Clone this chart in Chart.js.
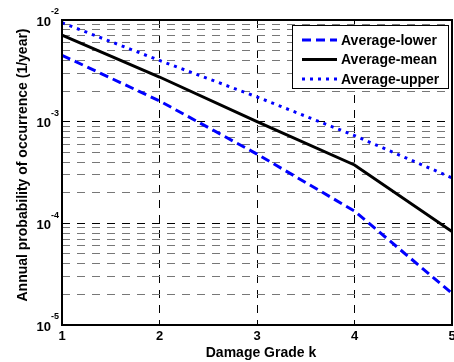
<!DOCTYPE html>
<html>
<head>
<meta charset="utf-8">
<script src="https://cdn.jsdelivr.net/npm/chart.js@4/dist/chart.umd.min.js"></script>
<style>
  html, body { margin: 0; padding: 0; background: #fff; }
  #wrap { width: 454px; height: 362px; }
</style>
</head>
<body>
<div id="wrap"><canvas id="chart"></canvas></div>
<script>
  // Damage grades (x) and annual probabilities (y)
  var grades = [1, 2, 3, 4, 5];
  var avgLower = [4.5e-3, 1.6e-3, 4.8e-4, 1.32e-4, 2.05e-5];
  var avgMean = [7.1e-3, 2.75e-3, 1.0e-3, 3.75e-4, 8.3e-5];
  var avgUpper = [9.4e-3, 4.0e-3, 1.75e-3, 7.3e-4, 2.8e-4];
  var decades = [-5, -4, -3, -2];
  var xTicks = [1, 2, 3, 4, 5];
  var xTitle = "Damage Grade k";
  var yTitle = "Annual probability of occurrence (1/year)";

  var FONT = "'Liberation Sans', Arial, sans-serif";

  // log ticks: 1..9 x 10^n, plus the top decade
  var yTicks = [];
  decades.forEach(function (e) {
    for (var m = 1; m <= 9; m++) {
      if (e === -2 && m > 1) break;
      yTicks.push(m * Math.pow(10, e));
    }
  });

  function isMajor(v) {
    var l = Math.log10(v);
    return Math.abs(l - Math.round(l)) < 1e-9;
  }

  function series(vals) {
    return grades.map(function (g, i) { return { x: g, y: vals[i] }; });
  }

  // y tick labels (10 with superscript exponent) and axis titles
  var axisText = {
    id: "axisText",
    afterDraw: function (chart) {
      var ctx = chart.ctx, s = chart.scales.y;
      ctx.save();
      ctx.fillStyle = "#000";
      ctx.textBaseline = "middle";
      decades.forEach(function (e) {
        var y = s.getPixelForValue(Math.pow(10, e)) + 2;
        var exp = String(e);
        ctx.font = "bold 9px " + FONT;
        var ew = ctx.measureText(exp).width;
        ctx.textAlign = "left";
        ctx.fillText(exp, 59 - ew, y - 10);
        ctx.font = "bold 13px " + FONT;
        ctx.textAlign = "right";
        ctx.fillText("10", 59 - ew, y);
      });

      ctx.font = "bold 14px " + FONT;
      ctx.textAlign = "center";
      ctx.fillText(xTitle, 261, 353);

      ctx.translate(23, 165);
      ctx.rotate(-Math.PI / 2);
      ctx.fillText(yTitle, 0, 0);
      ctx.restore();
    }
  };

  // box around plot area
  var frame = {
    id: "frame",
    afterDatasetsDraw: function (chart) {
      var a = chart.chartArea, ctx = chart.ctx;
      ctx.save();
      ctx.strokeStyle = "#000";
      ctx.lineWidth = 2;
      ctx.strokeRect(a.left, a.top, a.right - a.left, a.bottom - a.top);
      ctx.restore();
    }
  };

  // boxed legend in the upper right corner
  var boxLegend = {
    id: "boxLegend",
    afterDraw: function (chart) {
      var ctx = chart.ctx;
      var x0 = 292, y0 = 25, w = 156, h = 63;
      ctx.save();
      ctx.fillStyle = "#fff";
      ctx.fillRect(x0, y0, w, h);
      ctx.strokeStyle = "#000";
      ctx.lineWidth = 1;
      ctx.strokeRect(x0 + 0.5, y0 + 0.5, w, h);
      chart.data.datasets.forEach(function (ds, i) {
        var y = y0 + 15 + i * 19.5;
        ctx.strokeStyle = ds.borderColor;
        ctx.lineWidth = ds.borderWidth;
        ctx.setLineDash(ds.borderDash || []);
        ctx.beginPath();
        ctx.moveTo(302, y);
        ctx.lineTo(337, y);
        ctx.stroke();
        ctx.setLineDash([]);
        ctx.fillStyle = "#000";
        ctx.font = "bold 14px " + FONT;
        ctx.textBaseline = "middle";
        ctx.textAlign = "left";
        ctx.fillText(ds.label, 341, y + 1);
      });
      ctx.restore();
    }
  };

  new Chart(document.getElementById("chart"), {
    type: "line",
    data: {
      datasets: [
        {
          label: "Average-lower",
          data: series(avgLower),
          borderColor: "#0000ff",
          borderWidth: 3,
          borderDash: [9, 5],
          pointRadius: 0,
          tension: 0
        },
        {
          label: "Average-mean",
          data: series(avgMean),
          borderColor: "#000000",
          borderWidth: 3,
          pointRadius: 0,
          tension: 0
        },
        {
          label: "Average-upper",
          data: series(avgUpper),
          borderColor: "#0000ff",
          borderWidth: 3,
          borderDash: [3, 5],
          pointRadius: 0,
          tension: 0
        }
      ]
    },
    options: {
      responsive: true,
      maintainAspectRatio: false,
      animation: false,
      layout: { padding: { top: 20, right: 2, left: 0, bottom: 0 } },
      plugins: {
        legend: { display: false },
        tooltip: { enabled: false }
      },
      scales: {
        x: {
          type: "linear",
          min: 1,
          max: 5,
          afterBuildTicks: function (s) {
            s.ticks = xTicks.map(function (v) { return { value: v }; });
          },
          afterFit: function (s) {
            s.height = 37;
            s.paddingLeft = 0;
            s.paddingRight = 0;
          },
          ticks: {
            color: "#000",
            font: { family: FONT, size: 13, weight: "bold" },
            padding: 4,
            maxRotation: 0
          },
          grid: { color: "#000", lineWidth: 1, drawTicks: false },
          border: { display: false, dash: [8, 7] }
        },
        y: {
          type: "logarithmic",
          min: 1e-5,
          max: 1e-2,
          afterBuildTicks: function (s) {
            s.ticks = yTicks.map(function (v) { return { value: v }; });
          },
          afterFit: function (s) {
            s.width = 62;
          },
          ticks: { display: false, autoSkip: false },
          grid: {
            drawTicks: false,
            lineWidth: 1,
            color: function (c) {
              return c.tick && isMajor(c.tick.value) ? "#000" : "#777";
            }
          },
          border: { display: false, dash: [8, 7] }
        }
      }
    },
    plugins: [axisText, frame, boxLegend]
  });
</script>
</body>
</html>
